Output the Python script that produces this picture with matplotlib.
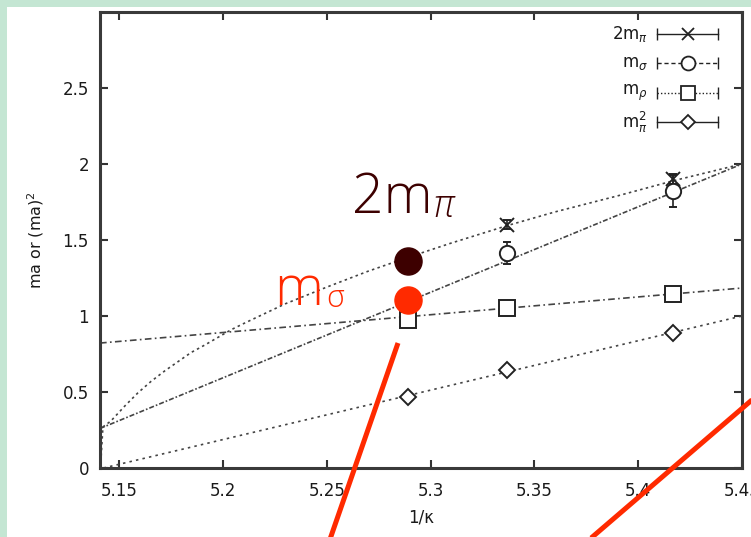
import matplotlib
matplotlib.use('Agg')
import matplotlib.pyplot as plt
from matplotlib.patches import Rectangle
from matplotlib.lines import Line2D

# measured points (x = 1/kappa)
two_mpi_x = [5.337, 5.417]
two_mpi = [1.60, 1.90]
two_mpi_err = [0.03, 0.03]

msig_x = [5.337, 5.417]
msig = [1.415, 1.825]
msig_err = [0.075, 0.11]

mrho_x = [5.289, 5.337, 5.417]
mrho = [0.975, 1.055, 1.145]
mrho_err = [0.02, 0.02, 0.02]

mpi2_x = [5.289, 5.337, 5.417]
mpi2 = [0.469, 0.645, 0.89]
mpi2_err = [0.015, 0.015, 0.015]

# fit curves
mrho_fit_x = [5.1408, 5.45]
mrho_fit = [0.822, 1.184]
msig_fit_x = [5.1408, 5.45]
msig_fit = [0.26, 2.0]
mpi2_fit_x = [5.1425, 5.45]
mpi2_fit = [0.0, 1.0]
two_mpi_fit_x = [5.1412, 5.1422, 5.1461, 5.1529, 5.1591, 5.1654, 5.1721, 5.1784,
                 5.1847, 5.1914, 5.1977, 5.204, 5.2107, 5.23, 5.25, 5.27, 5.289,
                 5.31, 5.337, 5.36, 5.39, 5.417, 5.45]
two_mpi_fit = [0.04, 0.27, 0.31, 0.41, 0.495, 0.57, 0.64, 0.70,
               0.76, 0.81, 0.86, 0.91, 0.955, 1.08, 1.19, 1.295, 1.385,
               1.48, 1.595, 1.685, 1.79, 1.89, 2.0]

# highlighted points on the slide
dot_x = 5.289
dot_2mpi = 1.36
dot_msig = 1.105

xticks = [5.15, 5.2, 5.25, 5.3, 5.35, 5.4, 5.45]
xticklabels = ['5.15', '5.2', '5.25', '5.3', '5.35', '5.4', '5.45']
yticks = [0, 0.5, 1, 1.5, 2, 2.5]
yticklabels = ['0', '0.5', '1', '1.5', '2', '2.5']

W, H = 751, 537
fig = plt.figure(figsize=(W / 100, H / 100), dpi=100)
fig.patch.set_facecolor('#c4e6d3')
fig.add_artist(Rectangle((7 / W, 0), 1, (H - 7) / H, transform=fig.transFigure,
                         facecolor='white', edgecolor='none', zorder=-10))


def px(x, y):
    # figure pixel (from top-left) -> figure fraction
    return x / W, 1 - y / H


ax = fig.add_axes([100 / W, (H - 468) / H, 642 / W, 456 / H])
ax.set_xlim(5.1408, 5.45)
ax.set_ylim(0, 3.0)
ax.set_xticks(xticks)
ax.set_xticklabels(xticklabels)
ax.set_yticks(yticks)
ax.set_yticklabels(yticklabels)
ax.tick_params(direction='in', top=True, right=True, length=6, width=1.5,
               color='#333333', labelsize=12, labelcolor='#1a1a1a')
ax.tick_params(axis='x', pad=10)
ax.tick_params(axis='y', pad=8)
for s in ax.spines.values():
    s.set_linewidth(2.2)
    s.set_color('#3a3a3a')
ax.set_xlabel('1/κ', fontsize=12, color='#1a1a1a', labelpad=6)
ax.set_ylabel('ma or (ma)$^2$', fontsize=11.5, color='#1a1a1a', labelpad=12)

lc = '#444444'
ax.plot(mrho_fit_x, mrho_fit, color=lc, lw=1.2, ls=(0, (4, 2, 1, 2)))
ax.plot(msig_fit_x, msig_fit, color=lc, lw=1.2, ls=(0, (3, 1.2, 1, 1.2)))
ax.plot(mpi2_fit_x, mpi2_fit, color=lc, lw=1.2, ls=(0, (1.5, 2.5)))
ax.plot(two_mpi_fit_x, two_mpi_fit, color=lc, lw=1.2, ls=(0, (1.5, 2)))

ek = dict(color='#222222', elinewidth=1.2, capsize=3, capthick=1.2, ls='none',
          mfc='white', mec='#222222', mew=1.4)
ax.errorbar(two_mpi_x, two_mpi, yerr=two_mpi_err, marker='x', ms=10, **ek)
ax.errorbar(msig_x, msig, yerr=msig_err, marker='o', ms=11, **ek)
ax.errorbar(mrho_x, mrho, yerr=mrho_err, marker='s', ms=11, **ek)
ax.errorbar(mpi2_x, mpi2, yerr=mpi2_err, marker='D', ms=8, **ek)

# legend, gnuplot style
leg_names = [r'2m$_\pi$', r'm$_\sigma$', r'm$_\rho$', r'm$_\pi^2$']
leg_markers = ['x', 'o', 's', 'D']
leg_ms = [9, 10, 10, 7]
leg_ls = ['-', (0, (3, 2)), (0, (1, 1.5)), '-']
leg_rows = [34, 63, 93, 122]
for name, mk, ms, ls, row in zip(leg_names, leg_markers, leg_ms, leg_ls, leg_rows):
    ya = (468 - row) / 456
    ax.text((648 - 100) / 642, ya, name, ha='right', va='center', fontsize=12,
            color='#1a1a1a', transform=ax.transAxes)
    ax.plot([(657 - 100) / 642, (718 - 100) / 642], [ya, ya], color='#222222',
            lw=1.0, ls=ls, marker='|', ms=9, markevery=[0, 1],
            transform=ax.transAxes, clip_on=False)
    ax.plot([(688 - 100) / 642], [ya], color='#222222', marker=mk, ms=ms,
            mfc='white', mec='#222222', mew=1.3, transform=ax.transAxes,
            clip_on=False)

# highlighted dots
ax.plot([dot_x], [dot_2mpi], 'o', color='#3d0000', ms=19.5, zorder=5)
ax.plot([dot_x], [dot_msig], 'o', color='#ff2a00', ms=19.5, zorder=5)

# big labels
fig.canvas.draw()
r = fig.canvas.get_renderer()
fam = 'Open Sans'
t1 = fig.text(*px(352, 213), '2m', fontsize=40, family=fam, weight='light',
              color='#3d0000', va='baseline', ha='left')
bb = t1.get_window_extent(renderer=r)
fig.text(bb.x1 / W + 1 / W, (H - 217) / H, 'π', fontsize=27, family=fam,
         weight='light', style='italic', color='#3d0000', va='baseline', ha='left')
t2 = fig.text(*px(274, 305), 'm', fontsize=40, family=fam, weight='light',
              color='#ff2a00', va='baseline', ha='left')
bb = t2.get_window_extent(renderer=r)
fig.text(bb.x1 / W + 3 / W, (H - 307) / H, 'σ', fontsize=22, family=fam,
         weight='light', color='#ff2a00', va='baseline', ha='left')

# red pointer lines
red_lines = [((398, 343), (328, 545)), ((760, 393), (583, 545))]
for (xa, ya), (xb, yb) in red_lines:
    fig.add_artist(Line2D([xa / W, xb / W], [1 - ya / H, 1 - yb / H],
                          transform=fig.transFigure, color='#ff2a00', lw=3.6,
                          solid_capstyle='butt', zorder=10))

fig.savefig('out.png', dpi=100, facecolor=fig.get_facecolor())
